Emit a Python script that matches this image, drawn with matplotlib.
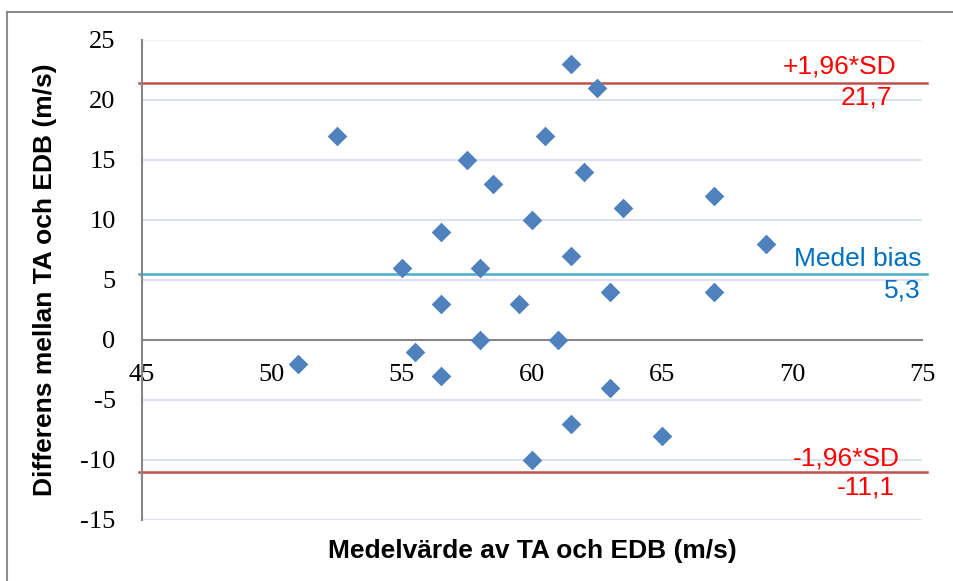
import numpy as np
import matplotlib
matplotlib.use("Agg")
import matplotlib.pyplot as plt
from matplotlib.patches import Rectangle

plt.rcParams["axes.unicode_minus"] = False

# medelvärde (x) och differens (y) per mätning
medel = [51, 52.5, 55, 55.5, 56.5, 56.5, 56.5, 57.5, 58, 58, 58.5, 59.5, 60, 60,
         60.5, 61, 61.5, 61.5, 61.5, 62, 62.5, 63, 63, 63.5, 65, 67, 67, 69]
diff = [-2, 17, 6, -1, 9, 3, -3, 15, 6, 0, 13, 3, 10, -10,
        17, 0, 23, 7, -7, 14, 21, 4, -4, 11, -8, 12, 4, 8]

upper_loa = 21.4
mean_bias = 5.5
lower_loa = -11.0
labels_txt = ["+1,96*SD", "21,7", "Medel bias", "5,3", "-1,96*SD", "-11,1"]

xticks = [45, 50, 55, 60, 65, 70, 75]
yticks = [-15, -10, -5, 0, 5, 10, 15, 20, 25]

fig = plt.figure(figsize=(9.54, 5.81), dpi=100)
ax = fig.add_axes([142/954, 1-520/581, 780/954, 480/581])

# ram runt diagrammet (bara vänster/övre kant syns)
fig.add_artist(Rectangle((7/954, -0.2), 1.3, 1-12/581+0.2, transform=fig.transFigure,
                         fill=False, edgecolor="#8c8c8c", lw=1.5))

ax.set_xlim(45, 75)
ax.set_ylim(-15, 25)

for y in yticks:
    if y == 0:
        continue
    c = "#f0f2f6" if y == 25 else "#d9e1f2"
    ax.axhline(y, color=c, lw=1.5, zorder=0)

ax.axhline(upper_loa, xmin=-0.004, xmax=1.006, color="#c0504d", lw=1.8, clip_on=False, zorder=1)
ax.axhline(lower_loa, xmin=-0.004, xmax=1.006, color="#c0504d", lw=1.8, clip_on=False, zorder=1)
ax.axhline(mean_bias, xmin=-0.004, xmax=1.006, color="#4bacc6", lw=1.8, clip_on=False, zorder=1)

ax.scatter(medel, diff, marker="D", s=100, color="#4f81bd", zorder=3, linewidths=0)

for s in ["top", "right"]:
    ax.spines[s].set_visible(False)
ax.spines["bottom"].set_position(("data", 0))
ax.spines["bottom"].set_color("#868686")
ax.spines["left"].set_color("#868686")
ax.spines["bottom"].set_linewidth(1.5)
ax.spines["left"].set_linewidth(1.5)
ax.spines["bottom"].set_zorder(2)

ax.set_xticks(xticks)
ax.set_yticks(yticks)
ax.tick_params(axis="x", length=0, pad=17, labelsize=19)
ax.tick_params(axis="y", length=0, pad=19, labelsize=19)
for t in ax.get_xticklabels() + ax.get_yticklabels():
    t.set_fontfamily("Liberation Serif")

ax.set_xlabel("Medelvärde av TA och EDB (m/s)", fontsize=19, fontweight="bold",
              fontfamily="Liberation Sans")
ax.xaxis.set_label_coords(0.5, -0.04)
ax.set_ylabel("Differens mellan TA och EDB (m/s)", fontsize=19, fontweight="bold",
              fontfamily="Liberation Sans")
ax.yaxis.set_label_coords(-0.109, 0.5)

kw = dict(ha="right", va="center", fontsize=19, fontfamily="Liberation Sans")
ax.text(74.0, 22.8, labels_txt[0], color="#ff0000", **kw)
ax.text(73.85, 20.2, labels_txt[1], color="#ff0000", **kw)
ax.text(75.0, 6.75, labels_txt[2], color="#0070c0", **kw)
ax.text(74.95, 4.1, labels_txt[3], color="#0070c0", **kw)
ax.text(74.15, -9.9, labels_txt[4], color="#ff0000", **kw)
ax.text(73.95, -12.3, labels_txt[5], color="#ff0000", **kw)

fig.savefig("out.png", dpi=100)
